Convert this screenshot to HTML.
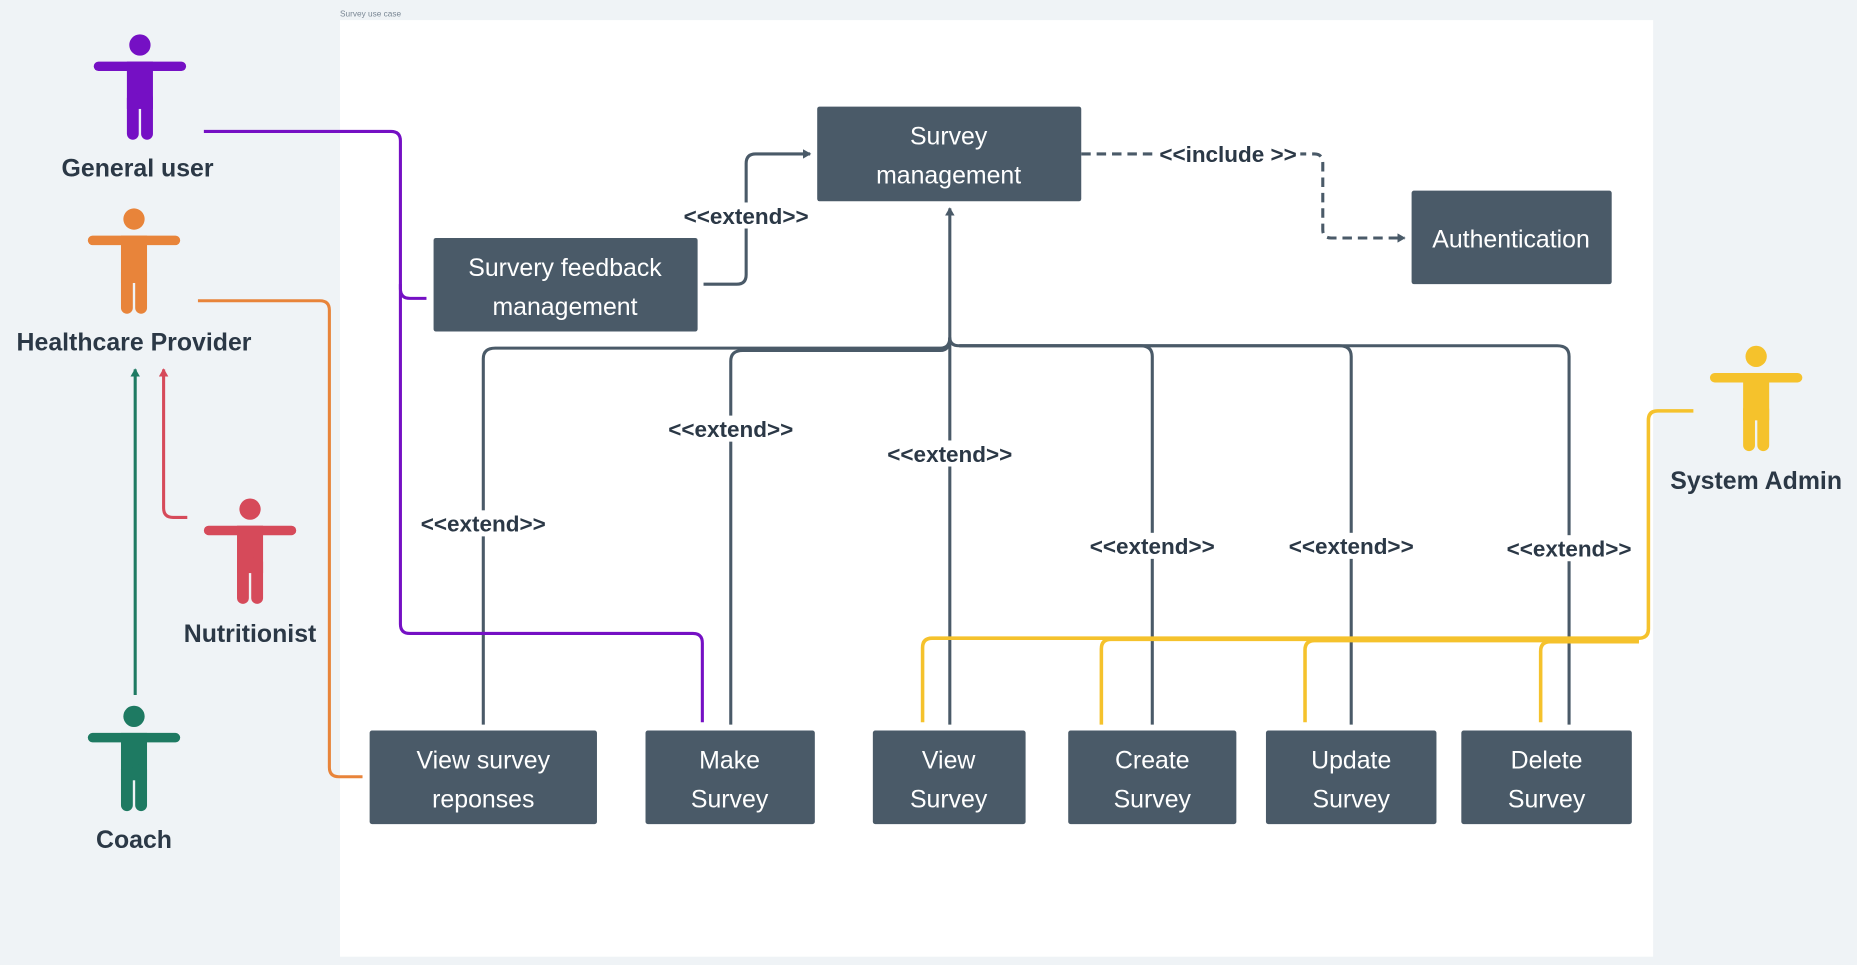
<!DOCTYPE html>
<html><head><meta charset="utf-8"><style>
html,body{margin:0;padding:0;background:#eff3f6;}
svg{display:block;}
text{font-family:"Liberation Sans","DejaVu Sans",sans-serif;}
.bt{fill:#fff;font-size:21px;text-anchor:middle;}
.lb{fill:#2b3846;font-size:19px;font-weight:bold;text-anchor:middle;}
.ac{fill:#2b3846;font-size:21px;font-weight:bold;text-anchor:middle;}
.g{stroke:#4a5a68;stroke-width:2.6;fill:none;}
</style></head><body>
<svg width="1857" height="965" viewBox="0 0 1568 815" xmlns="http://www.w3.org/2000/svg">
<defs>
<marker id="ag" markerWidth="8" markerHeight="8" refX="6" refY="4" orient="auto" markerUnits="userSpaceOnUse"><path d="M0,0 L7,4 L0,8 z" fill="#4a5a68"/></marker>
<marker id="agr" markerWidth="8" markerHeight="8" refX="6" refY="4" orient="auto" markerUnits="userSpaceOnUse"><path d="M0,0 L7,4 L0,8 z" fill="#1e7a62"/></marker>
<marker id="ar" markerWidth="8" markerHeight="8" refX="6" refY="4" orient="auto" markerUnits="userSpaceOnUse"><path d="M0,0 L7,4 L0,8 z" fill="#d64a5a"/></marker>
<g id="actor"><circle cx="0" cy="0" r="9"/><rect x="-39" y="14" width="78" height="8" rx="4"/><rect x="-11" y="14" width="22" height="40"/><rect x="-11" y="40" width="10" height="40" rx="5"/><rect x="1" y="40" width="10" height="40" rx="5"/></g>
</defs>
<rect x="0" y="0" width="1568" height="815" fill="#eff3f6"/>
<rect x="287" y="17" width="1109" height="791" fill="#fff"/>
<text x="287" y="14" font-size="7" fill="#7a8794">Survey use case</text>

<path class="g" d="M408,612 V303 Q408,294 418,294 H794 Q802,294 802,285" />
<path class="g" d="M617,612 V305 Q617,296 627,296 H794 Q802,296 802,285" />
<path class="g" d="M802,612 V176" marker-end="url(#ag)"/>
<path class="g" d="M973,612 V301 Q973,292 963,292 H810 Q802,292 802,285" />
<path class="g" d="M1141,612 V301 Q1141,292 1131,292 H810" />
<path class="g" d="M1325,612 V301 Q1325,292 1315,292 H810" />
<path class="g" d="M594,240 H622 Q630,240 630,232 V138 Q630,130 638,130 H684" marker-end="url(#ag)"/>
<path class="g" stroke-dasharray="8,5" d="M913,130 H1110 Q1117,130 1117,138 V194 Q1117,201 1124,201 H1186" marker-end="url(#ag)"/>

<g>
<rect x="354" y="431" width="108" height="22" fill="#fff"/><text class="lb" x="408" y="449">&lt;&lt;extend&gt;&gt;</text>
<rect x="563" y="351" width="108" height="22" fill="#fff"/><text class="lb" x="617" y="369">&lt;&lt;extend&gt;&gt;</text>
<rect x="748" y="372" width="108" height="22" fill="#fff"/><text class="lb" x="802" y="390">&lt;&lt;extend&gt;&gt;</text>
<rect x="919" y="450" width="108" height="22" fill="#fff"/><text class="lb" x="973" y="468">&lt;&lt;extend&gt;&gt;</text>
<rect x="1087" y="450" width="108" height="22" fill="#fff"/><text class="lb" x="1141" y="468">&lt;&lt;extend&gt;&gt;</text>
<rect x="1271" y="452" width="108" height="22" fill="#fff"/><text class="lb" x="1325" y="470">&lt;&lt;extend&gt;&gt;</text>
<rect x="576" y="171" width="108" height="22" fill="#fff"/><text class="lb" x="630" y="189">&lt;&lt;extend&gt;&gt;</text>
<rect x="977" y="119" width="121" height="22" fill="#fff"/><text class="lb" x="1037" y="137">&lt;&lt;include &gt;&gt;</text>
</g>

<path d="M172,111 H330 Q338,111 338,119 V244 Q338,252 346,252 H360" stroke="#7510c4" stroke-width="2.6" fill="none"/>
<path d="M338,240 V527 Q338,535 346,535 H585 Q593,535 593,543 V610" stroke="#7510c4" stroke-width="2.6" fill="none"/>
<path d="M167,254 H270 Q278,254 278,262 V648 Q278,656 286,656 H306" stroke="#e8843a" stroke-width="2.6" fill="none"/>
<path d="M114,587 V312" stroke="#1e7a62" stroke-width="2.6" fill="none" marker-end="url(#agr)"/>
<path d="M158,437 H146 Q138,437 138,429 V312" stroke="#d64a5a" stroke-width="2.6" fill="none" marker-end="url(#ar)"/>
<g stroke="#f5c22c" stroke-width="3" fill="none">
<path d="M1430,347 H1400 Q1392,347 1392,355 V531 Q1392,539 1384,539 H787 Q779,539 779,547 V610"/>
<path d="M1384,540 H938 Q930,540 930,548 V612"/>
<path d="M1384,541 H1110 Q1102,541 1102,549 V610"/>
<path d="M1384,542 H1309 Q1301,542 1301,550 V610"/>
</g>

<g fill="#4a5a68">
<rect x="690" y="90" width="223" height="80" rx="2"/>
<rect x="366" y="201" width="223" height="79" rx="2"/>
<rect x="1192" y="161" width="169" height="79" rx="2"/>
<rect x="312" y="617" width="192" height="79" rx="2"/>
<rect x="545" y="617" width="143" height="79" rx="2"/>
<rect x="737" y="617" width="129" height="79" rx="2"/>
<rect x="902" y="617" width="142" height="79" rx="2"/>
<rect x="1069" y="617" width="144" height="79" rx="2"/>
<rect x="1234" y="617" width="144" height="79" rx="2"/>
</g>
<text class="bt" x="801" y="122">Survey</text><text class="bt" x="801" y="155">management</text>
<text class="bt" x="477" y="233">Survery feedback</text><text class="bt" x="477" y="266">management</text>
<text class="bt" x="1276" y="209">Authentication</text>
<text class="bt" x="408" y="649">View survey</text><text class="bt" x="408" y="682">reponses</text>
<text class="bt" x="616" y="649">Make</text><text class="bt" x="616" y="682">Survey</text>
<text class="bt" x="801" y="649">View</text><text class="bt" x="801" y="682">Survey</text>
<text class="bt" x="973" y="649">Create</text><text class="bt" x="973" y="682">Survey</text>
<text class="bt" x="1141" y="649">Update</text><text class="bt" x="1141" y="682">Survey</text>
<text class="bt" x="1306" y="649">Delete</text><text class="bt" x="1306" y="682">Survey</text>

<use href="#actor" x="118" y="38" fill="#7510c4"/>
<text class="ac" x="116" y="149">General user</text>
<use href="#actor" x="113" y="185" fill="#e8843a"/>
<text class="ac" x="113" y="296">Healthcare Provider</text>
<use href="#actor" x="211" y="430" fill="#d64a5a"/>
<text class="ac" x="211" y="542">Nutritionist</text>
<use href="#actor" x="113" y="605" fill="#1e7a62"/>
<text class="ac" x="113" y="716">Coach</text>
<use href="#actor" x="1483" y="301" fill="#f5c22c"/>
<text class="ac" x="1483" y="413">System Admin</text>
</svg>
</body></html>
